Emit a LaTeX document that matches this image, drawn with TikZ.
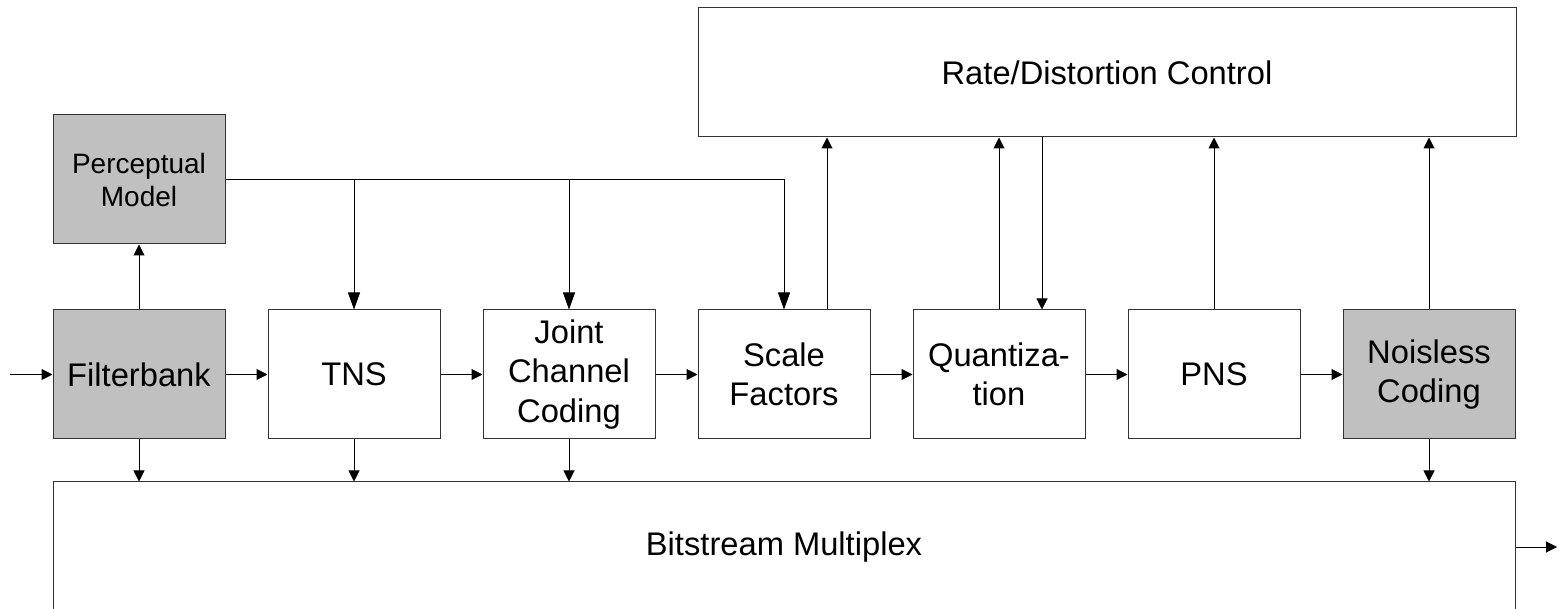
\documentclass[tikz,border=0pt]{standalone}
\usepackage{fontspec}
\setmainfont{Liberation Sans}
\usetikzlibrary{arrows.meta}
\definecolor{boxgray}{HTML}{C0C0C0}
\definecolor{edge}{HTML}{333333}
\begin{document}
\begin{tikzpicture}[x=1pt,y=-1pt,
  blk/.style={draw=edge, line width=1pt, fill=white, minimum width=172pt, minimum height=129pt,
    inner sep=0pt, align=center, font=\fontsize{32.7}{39.5}\selectfont},
  gblk/.style={blk, fill=boxgray},
  arr/.style={line width=1pt, draw=black, -{Triangle[length=11pt,width=11pt]}},
  arrL/.style={line width=1pt, draw=black, -{Triangle[length=17pt,width=12pt]}},
  ln/.style={line width=1pt, draw=black}]
\useasboundingbox (0,0) rectangle (1559,609);
% boxes
\node[blk, minimum width=818pt] (rdc) at (1107,72.5) {Rate/Distortion Control};
\node[gblk, font=\fontsize{28}{33}\selectfont] (pm) at (139,179.5) {Perceptual\\Model};
\node[gblk] (fb) at (139,374.5) {Filterbank};
\node[blk] (tns) at (354,374.5) {TNS};
\node[blk] (jcc) at (569,374.5) {Joint\\Channel\\Coding};
\node[blk] (sf) at (784,374.5) {Scale\\Factors};
\node[blk] (q) at (999,374.5) {Quantiza-\\tion};
\node[blk] (pns) at (1214,374.5) {PNS};
\node[gblk] (nc) at (1429,374.5) {Noisless\\Coding};
\node[blk, minimum width=1462pt, minimum height=130pt] (bsm) at (784,547) {Bitstream Multiplex};
% input / output
\coordinate (in) at (10,374.5);
\coordinate (out) at (1557,547);
\draw[arr] (in) -- (fb.west);
\draw[arr] (bsm.east |- out) -- (out);
% main chain
\draw[arr] (fb.east) -- (tns.west);
\draw[arr] (tns.east) -- (jcc.west);
\draw[arr] (jcc.east) -- (sf.west);
\draw[arr] (sf.east) -- (q.west);
\draw[arr] (q.east) -- (pns.west);
\draw[arr] (pns.east) -- (nc.west);
% perceptual model
\draw[arr] (fb.north) -- (pm.south);
\draw[arrL] (pm.east) -| (sf.north);
\draw[arrL] (tns.north |- pm.east) -- (tns.north);
\draw[arrL] (jcc.north |- pm.east) -- (jcc.north);
% rate/distortion
\draw[arr] ([xshift=43pt]sf.north) -- ([xshift=43pt]sf.north |- rdc.south);
\draw[arr] (q.north) -- (q.north |- rdc.south);
\draw[arr] ([xshift=43pt]q.north |- rdc.south) -- ([xshift=43pt]q.north);
\draw[arr] (pns.north) -- (pns.north |- rdc.south);
\draw[arr] (nc.north) -- (nc.north |- rdc.south);
% to bitstream
\draw[arr] (fb.south) -- (fb.south |- bsm.north);
\draw[arr] (tns.south) -- (tns.south |- bsm.north);
\draw[arr] (jcc.south) -- (jcc.south |- bsm.north);
\draw[arr] (nc.south) -- (nc.south |- bsm.north);
\end{tikzpicture}
\end{document}
